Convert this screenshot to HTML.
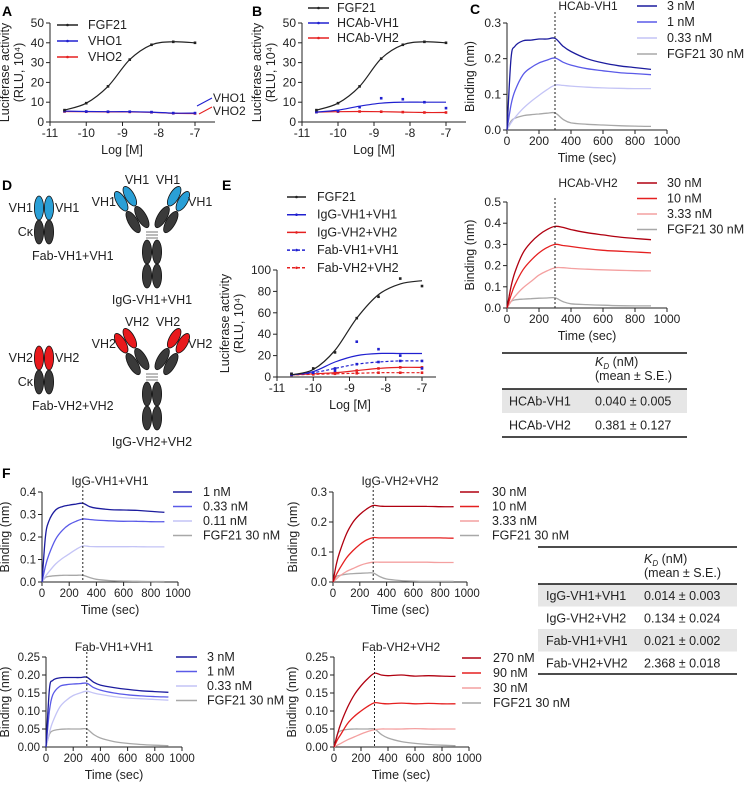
<!DOCTYPE html>
<html><head><meta charset="utf-8"><style>
body{margin:0;background:#fff}
svg{display:block;font-family:"Liberation Sans",Arial,sans-serif}
</style></head><body>
<svg id="fig" width="745" height="785" viewBox="0 0 745 785">
<g id="static">
<text x="2" y="16" font-size="14" font-weight="bold">A</text>
<text x="252" y="16" font-size="14" font-weight="bold">B</text>
<text x="470" y="14" font-size="14" font-weight="bold">C</text>
<text x="2" y="190" font-size="14" font-weight="bold">D</text>
<text x="222" y="190" font-size="14" font-weight="bold">E</text>
<text x="2" y="478" font-size="14" font-weight="bold">F</text>
</g>
<g id="panel-d"></g>
<g id="charts"></g>
<g id="tables"></g>
</svg>
<script>
// ---- dose-response data ----
const doseX = [-10.6, -10, -9.4, -8.8, -8.2, -7.6, -7];
const aFGF21 = [6, 9.5, 18, 31.5, 39, 40.5, 40];
const aVHO1 = [5.5, 5.3, 5.2, 5.2, 5, 4.5, 4.5];
const aVHO2 = [5.3, 5.2, 5.1, 5.1, 4.9, 4.4, 4.3];
const bFGF21 = [6, 9.5, 18, 32, 39, 40.5, 40];
const bVH1Fit = [5, 6, 8, 9.5, 10, 10, 10];
const bVH1Pts = [5, 5.5, 7.5, 12, 11.5, 10, 7];
const bVH2Fit = [5, 5.2, 5.3, 5.2, 5, 4.8, 4.8];
const eFGF21Pts = [3, 8, 23, 55, 75, 92, 85];
const eFGF21Fit = [2, 7, 25, 55, 77, 87, 90];
const eIgGVH1 = [2, 5, 14, 20, 22, 22, 22];
const eIgGVH1Pts = [3, 4, 6, 33, 26, 20, 8];
const eIgGVH2 = [2, 3, 4, 6, 8, 9, 9];
const eFabVH1 = [2, 4, 8, 12, 14, 15, 15];
const eFabVH2 = [2, 2.5, 3, 3.5, 4, 4, 4];
const doseTicksX = [-11, -10, -9, -8, -7];
// ---- kinetics data ----
const tSec = [0, 25, 50, 100, 150, 200, 250, 300, 350, 400, 500, 600, 700, 800, 900];
const cVH1_3 = [0,0.2,0.235,0.25,0.252,0.255,0.255,0.257,0.235,0.22,0.2,0.188,0.18,0.175,0.17];
const cVH1_1 = [0,0.07,0.11,0.155,0.175,0.188,0.196,0.202,0.19,0.182,0.172,0.166,0.161,0.158,0.155];
const cVH1_033 = [0,0.02,0.035,0.06,0.08,0.097,0.113,0.126,0.125,0.123,0.12,0.118,0.117,0.116,0.116];
const cFGF_a = [0,0.025,0.033,0.04,0.043,0.045,0.047,0.048,0.03,0.02,0.016,0.014,0.012,0.011,0.01];
const cVH2_30 = [0,0.1,0.17,0.26,0.31,0.345,0.37,0.385,0.38,0.37,0.355,0.345,0.335,0.328,0.322];
const cVH2_10 = [0,0.06,0.11,0.18,0.225,0.26,0.285,0.3,0.295,0.29,0.28,0.272,0.268,0.264,0.26];
const cVH2_333 = [0,0.03,0.055,0.095,0.125,0.155,0.175,0.19,0.19,0.187,0.183,0.18,0.178,0.176,0.175];
const cFGF_b = [0,0.03,0.038,0.042,0.044,0.046,0.047,0.048,0.03,0.02,0.016,0.013,0.011,0.01,0.01];
const fIgG1_1 = [0,0.2,0.27,0.32,0.335,0.342,0.346,0.35,0.335,0.328,0.322,0.32,0.318,0.314,0.31];
const fIgG1_033 = [0,0.07,0.12,0.19,0.23,0.255,0.27,0.28,0.278,0.275,0.272,0.27,0.27,0.268,0.268];
const fIgG1_011 = [0,0.025,0.045,0.08,0.105,0.125,0.145,0.16,0.158,0.157,0.157,0.157,0.157,0.156,0.156];
const fFGF_a = [0,0.02,0.025,0.028,0.03,0.03,0.03,0.03,0.02,0.012,0.006,0.004,0.003,0.002,0.002];
const fIgG2_30 = [0,0.06,0.1,0.16,0.2,0.225,0.243,0.255,0.253,0.252,0.252,0.252,0.252,0.251,0.251];
const fIgG2_10 = [0,0.025,0.045,0.08,0.105,0.125,0.14,0.148,0.147,0.147,0.147,0.147,0.147,0.147,0.146];
const fIgG2_333 = [0,0.01,0.02,0.035,0.045,0.055,0.062,0.066,0.066,0.066,0.066,0.066,0.066,0.065,0.065];
const fFGF_b = [0,0.018,0.022,0.026,0.028,0.029,0.03,0.03,0.018,0.01,0.005,0.003,0.002,0.002,0.002];
const fFab1_3 = [0,0.16,0.185,0.192,0.193,0.193,0.193,0.194,0.18,0.172,0.165,0.16,0.156,0.154,0.152];
const fFab1_1 = [0,0.1,0.145,0.168,0.173,0.175,0.176,0.177,0.165,0.158,0.15,0.145,0.142,0.14,0.139];
const fFab1_033 = [0,0.04,0.07,0.11,0.13,0.143,0.15,0.155,0.15,0.146,0.14,0.136,0.134,0.132,0.13];
const fFGF_c = [0,0.035,0.045,0.049,0.05,0.05,0.05,0.05,0.035,0.025,0.015,0.01,0.007,0.005,0.004];
const fFab2_270 = [0,0.035,0.065,0.11,0.145,0.17,0.19,0.205,0.2,0.198,0.2,0.197,0.198,0.197,0.196];
const fFab2_90 = [0,0.02,0.035,0.065,0.085,0.1,0.113,0.123,0.121,0.12,0.122,0.12,0.121,0.12,0.12];
const fFab2_30 = [0,0.005,0.01,0.02,0.028,0.036,0.043,0.048,0.05,0.05,0.05,0.051,0.05,0.05,0.05];
const fFGF_d = [0,0.035,0.045,0.049,0.05,0.05,0.05,0.05,0.035,0.025,0.015,0.01,0.007,0.005,0.004];
const timeTicks = [0, 200, 400, 600, 800, 1000];

const NS = "http://www.w3.org/2000/svg";
function mk(tag, attrs, parent){const e=document.createElementNS(NS,tag);for(const k in attrs)e.setAttribute(k,attrs[k]);(parent||document.getElementById('charts')).appendChild(e);return e;}
function txt(x,y,s,size,anchor,parent){const t=mk('text',{x:x,y:y,'font-size':size||12,'text-anchor':anchor||'start',fill:'#222'},parent);t.textContent=s;return t;}
function smoothPath(pts){let d='M'+pts[0][0]+','+pts[0][1];for(let i=0;i<pts.length-1;i++){const p0=pts[Math.max(i-1,0)],p1=pts[i],p2=pts[i+1],p3=pts[Math.min(i+2,pts.length-1)];const c1=[p1[0]+(p2[0]-p0[0])/6,p1[1]+(p2[1]-p0[1])/6],c2=[p2[0]-(p3[0]-p1[0])/6,p2[1]-(p3[1]-p1[1])/6];d+=' C'+c1[0].toFixed(1)+','+c1[1].toFixed(1)+' '+c2[0].toFixed(1)+','+c2[1].toFixed(1)+' '+p2[0].toFixed(1)+','+p2[1].toFixed(1);}return d;}

function axes(o){
  const g=mk('g',{});
  
  
  const sx=v=>o.x0+(v-o.xmin)/(o.xmax-o.xmin)*(o.xr-o.x0);
  const sy=v=>o.y0-(v-o.ymin)/(o.ymax-o.ymin)*(o.y0-o.yt1);
  mk('line',{x1:o.x0,y1:o.y0,x2:o.xend,y2:o.y0,stroke:'#222','stroke-width':1},g);
  mk('line',{x1:o.x0,y1:o.y0,x2:o.x0,y2:o.yt1,stroke:'#222','stroke-width':1},g);
  o.xt.forEach(v=>{mk('line',{x1:sx(v),y1:o.y0,x2:sx(v),y2:o.y0+4,stroke:'#222'},g);const t=txt(sx(v),o.y0+15,String(v),o.fs||12,'middle',g);});
  o.yt.forEach(v=>{mk('line',{x1:o.x0-4,y1:sy(v),x2:o.x0,y2:sy(v),stroke:'#222'},g);const t=txt(o.x0-6,sy(v)+4,o.yfmt?o.yfmt(v):String(v),o.fs||12,'end',g);});
  const xl=txt(o.xlabx,o.y0+32,o.xlabel,12.5,'middle',g);
  
  
  o.ylab.forEach((s,i)=>{const t=txt(0,0,s,12.5,'middle',g);t.setAttribute('transform','translate('+(o.ylx+i*14)+','+((o.y0+o.yt1)/2)+') rotate(-90)');});
  return {g,sx,sy};
}
function legend(g,x,y,step,items,lw,tx){
  items.forEach((it,i)=>{const yy=y+i*step;const l=mk('line',{x1:x,y1:yy,x2:x+lw,y2:yy,stroke:it[1],'stroke-width':1.5,'stroke-dasharray':it[2]?'3,2':'none'},g);
  
  
  if(it[3]){mk('circle',{cx:x+lw/2,cy:yy,r:1.3,fill:it[1]},g);}
  const t=txt(tx,yy+4,it[0],12.5,'start',g);
  
  });
}
function dose(ax,ys,color,dash,showPts,pts){
  const p=doseX.map((x,i)=>[ax.sx(x),ax.sy(ys[i])]);
  const path=mk('path',{d:smoothPath(p),fill:'none',stroke:color,'stroke-width':1.2,'stroke-dasharray':dash?'3,2':'none'},ax.g);
  
  
  const pv=pts||ys;
  if(showPts) doseX.forEach((x,i)=>{const c=mk('rect',{x:ax.sx(x)-1.3,y:ax.sy(pv[i])-1.3,width:2.6,height:2.6,fill:color},ax.g);});
}
function kin(ax,ys,color){
  const p=tSec.map((t,i)=>[ax.sx(t),ax.sy(ys[i])]);
  const path=mk('path',{d:smoothPath(p),fill:'none',stroke:color,'stroke-width':1.3},ax.g);
  
  
}
function dashedMark(ax,top){const l=mk('line',{x1:ax.sx(300),y1:top,x2:ax.sx(300),y2:ax.sy(0),stroke:'#222','stroke-dasharray':'2,2'},ax.g);}

const BL1='#1c1c9e',BL2='#5a5ae8',BL3='#c4c4f6',GR='#a8a8a8',RD1='#b00010',RD2='#e52020',RD3='#f4a0a0';

// Panel A
const pa=axes({name:'chart-a',x0:50,xr:195,y0:122,yt1:23,xend:215,xmin:-11,xmax:-7,ymin:0,ymax:50,xt:doseTicksX,yt:[0,10,20,30,40,50],xlabel:'Log [M]',xlabx:122,ylab:['Luciferase activity','(RLU, 10⁴)'],ylx:9});
dose(pa,aVHO2,RD2,false,true);
dose(pa,aVHO1,'#2020d0',false,true);
dose(pa,aFGF21,'#222',false,true);
legend(pa.g,57,25,16,[['FGF21','#222',0,1],['VHO1','#2020d0',0,1],['VHO2',RD2,0,1]],21,88);
mk('line',{x1:197,y1:106,x2:212,y2:98,stroke:'#2020d0'},pa.g);
mk('line',{x1:199,y1:114,x2:212,y2:107,stroke:RD2},pa.g);
txt(213,102,'VHO1',12,'start',pa.g);txt(213,115,'VHO2',12,'start',pa.g);
// Panel B
const pb=axes({name:'chart-b',x0:302,xr:446,y0:122,yt1:23,xend:466,xmin:-11,xmax:-7,ymin:0,ymax:50,xt:doseTicksX,yt:[0,10,20,30,40,50],xlabel:'Log [M]',xlabx:374,ylab:['Luciferase activity','(RLU, 10⁴)'],ylx:261});
dose(pb,bVH2Fit,RD2,false,true);
dose(pb,bVH1Fit,'#2020d0',false,false);
doseX.forEach((x,i)=>{const c=mk('rect',{x:pb.sx(x)-1.3,y:pb.sy(bVH1Pts[i])-1.3,width:2.6,height:2.6,fill:'#2020d0'},pb.g);});
dose(pb,bFGF21,'#222',false,true);
legend(pb.g,308,8,15,[['FGF21','#222',0,1],['HCAb-VH1','#2020d0',0,1],['HCAb-VH2',RD2,0,1]],21,337);
// Panel C top
const pc1=axes({name:'chart-c-vh1',x0:507,xr:667,y0:130,yt1:23,xend:667,xmin:0,xmax:1000,ymin:0,ymax:0.3,xt:timeTicks,yt:[0,0.1,0.2,0.3],yfmt:v=>v.toFixed(1),xlabel:'Time (sec)',xlabx:587,ylab:['Binding (nm)'],ylx:474});
kin(pc1,cFGF_a,GR);kin(pc1,cVH1_033,BL3);kin(pc1,cVH1_1,BL2);kin(pc1,cVH1_3,BL1);
dashedMark(pc1,12);
txt(588,10,'HCAb-VH1',12,'middle',pc1.g);
legend(pc1.g,637,6,16,[['3 nM',BL1],['1 nM',BL2],['0.33 nM',BL3],['FGF21 30 nM',GR]],20,667);
// Panel C bottom
const pc2=axes({name:'chart-c-vh2',x0:507,xr:667,y0:308,yt1:202,xend:667,xmin:0,xmax:1000,ymin:0,ymax:0.5,xt:timeTicks,yt:[0,0.1,0.2,0.3,0.4,0.5],yfmt:v=>v.toFixed(1),xlabel:'Time (sec)',xlabx:587,ylab:['Binding (nm)'],ylx:474});
kin(pc2,cFGF_b,GR);kin(pc2,cVH2_333,RD3);kin(pc2,cVH2_10,RD2);kin(pc2,cVH2_30,RD1);
dashedMark(pc2,198);
txt(588,187,'HCAb-VH2',12,'middle',pc2.g);
legend(pc2.g,637,183,15.5,[['30 nM',RD1],['10 nM',RD2],['3.33 nM',RD3],['FGF21 30 nM',GR]],20,667);
// Panel E
const pe=axes({name:'chart-e',x0:277,xr:422,y0:377,yt1:270,xend:436,xmin:-11,xmax:-7,ymin:0,ymax:100,xt:doseTicksX,yt:[0,20,40,60,80,100],xlabel:'Log [M]',xlabx:350,ylab:['Luciferase activity','(RLU, 10⁴)'],ylx:229});
dose(pe,eFabVH2,RD2,true,true);
dose(pe,eIgGVH2,RD2,false,true);
dose(pe,eFabVH1,'#2020d0',true,true);
dose(pe,eIgGVH1,'#2020d0',false,true,eIgGVH1Pts);
dose(pe,eFGF21Fit,'#222',false,true,eFGF21Pts);
legend(pe.g,287,197,17.7,[['FGF21','#222',0,1],['IgG-VH1+VH1','#2020d0',0,1],['IgG-VH2+VH2',RD2,0,1],['Fab-VH1+VH1','#2020d0',1,1],['Fab-VH2+VH2',RD2,1,1]],19,317);
// Panel F
const f1=axes({name:'chart-f-igg-vh1',x0:42,xr:178,y0:582,yt1:492,xend:178,xmin:0,xmax:1000,ymin:0,ymax:0.4,xt:timeTicks,yt:[0,0.1,0.2,0.3,0.4],yfmt:v=>v.toFixed(1),xlabel:'Time (sec)',xlabx:110,ylab:['Binding (nm)'],ylx:9,fs:11.5});
kin(f1,fFGF_a,GR);kin(f1,fIgG1_011,BL3);kin(f1,fIgG1_033,BL2);kin(f1,fIgG1_1,BL1);
dashedMark(f1,486);txt(110,485,'IgG-VH1+VH1',12,'middle',f1.g);
legend(f1.g,173,492,14.5,[['1 nM',BL1],['0.33 nM',BL2],['0.11 nM',BL3],['FGF21 30 nM',GR]],19,203);
const f2=axes({name:'chart-f-igg-vh2',x0:333,xr:467,y0:582,yt1:492,xend:467,xmin:0,xmax:1000,ymin:0,ymax:0.3,xt:timeTicks,yt:[0,0.1,0.2,0.3],yfmt:v=>v.toFixed(1),xlabel:'Time (sec)',xlabx:400,ylab:['Binding (nm)'],ylx:297,fs:11.5});
kin(f2,fFGF_b,GR);kin(f2,fIgG2_333,RD3);kin(f2,fIgG2_10,RD2);kin(f2,fIgG2_30,RD1);
dashedMark(f2,486);txt(400,485,'IgG-VH2+VH2',12,'middle',f2.g);
legend(f2.g,460,492,14.5,[['30 nM',RD1],['10 nM',RD2],['3.33 nM',RD3],['FGF21 30 nM',GR]],19,492);
const f3=axes({name:'chart-f-fab-vh1',x0:46,xr:182,y0:747,yt1:657,xend:182,xmin:0,xmax:1000,ymin:0,ymax:0.25,xt:timeTicks,yt:[0,0.05,0.1,0.15,0.2,0.25],yfmt:v=>v.toFixed(2),xlabel:'Time (sec)',xlabx:114,ylab:['Binding (nm)'],ylx:9,fs:11.5});
kin(f3,fFGF_c,GR);kin(f3,fFab1_033,BL3);kin(f3,fFab1_1,BL2);kin(f3,fFab1_3,BL1);
dashedMark(f3,652);txt(114,651,'Fab-VH1+VH1',12,'middle',f3.g);
legend(f3.g,176,657,14.5,[['3 nM',BL1],['1 nM',BL2],['0.33 nM',BL3],['FGF21 30 nM',GR]],21,207);
const f4=axes({name:'chart-f-fab-vh2',x0:334,xr:469,y0:747,yt1:657,xend:469,xmin:0,xmax:1000,ymin:0,ymax:0.25,xt:timeTicks,yt:[0,0.05,0.1,0.15,0.2,0.25],yfmt:v=>v.toFixed(2),xlabel:'Time (sec)',xlabx:401,ylab:['Binding (nm)'],ylx:296,fs:11.5});
kin(f4,fFGF_d,GR);kin(f4,fFab2_30,RD3);kin(f4,fFab2_90,RD2);kin(f4,fFab2_270,RD1);
dashedMark(f4,652);txt(401,651,'Fab-VH2+VH2',12,'middle',f4.g);
legend(f4.g,462,658,15,[['270 nM',RD1],['90 nM',RD2],['30 nM',RD3],['FGF21 30 nM',GR]],19,493);

// Tables
const T=document.getElementById('tables');
function table(name,x0,x1,top,hy,sep,rows,rowH,valX,nameX){
  const g=mk('g',{},T);
  
  
  rows.forEach((r,i)=>{const y=sep+i*rowH;if(i%2===0)mk('rect',{x:x0,y:y,width:x1-x0,height:rowH,fill:'#e6e6e6'},g);
    const a=txt(nameX,y+rowH/2+4.5,r[0],12.5,'start',g);
    const b=txt(valX,y+rowH/2+4.5,r[1],12.5,'start',g);});
  mk('line',{x1:x0,y1:top,x2:x1,y2:top,stroke:'#111','stroke-width':1.5},g);
  mk('line',{x1:x0,y1:sep,x2:x1,y2:sep,stroke:'#111','stroke-width':1.5},g);
  const bt=sep+rows.length*rowH;
  mk('line',{x1:x0,y1:bt,x2:x1,y2:bt,stroke:'#111','stroke-width':1.5},g);
  const h=mk('text',{x:valX,y:hy,'font-size':12.5,fill:'#222'},g);
  h.innerHTML='<tspan font-style="italic">K</tspan><tspan font-style="italic" font-size="8" dy="3">D</tspan><tspan dy="-3"> (nM)</tspan>';
  
  
  txt(valX,hy+14,'(mean ± S.E.)',12.5,'start',g);
}
table('kd-table-c',502,687,353,366,389,[['HCAb-VH1','0.040 ± 0.005'],['HCAb-VH2','0.381 ± 0.127']],24,595,509);
table('kd-table-f',538,737,547,563,584,[['IgG-VH1+VH1','0.014 ± 0.003'],['IgG-VH2+VH2','0.134 ± 0.024'],['Fab-VH1+VH1','0.021 ± 0.002'],['Fab-VH2+VH2','2.368 ± 0.018']],22.5,644,546);

// Panel D diagrams (static shapes)
const D=document.getElementById('panel-d');
const DK='#3a3a3a';
function ell(cx,cy,rx,ry,fill,par,rot){const e=mk('ellipse',{cx:cx,cy:cy,rx:rx,ry:ry,fill:fill,stroke:'#111','stroke-width':0.8},par);if(rot)e.setAttribute('transform','rotate('+rot+' '+cx+' '+cy+')');return e;}
function fab(cx,top,col,lbl,cap){
  const g=mk('g',{},D);
  
  
  ell(cx-5,top+12,4.6,12,col,g);ell(cx+5,top+12,4.6,12,col,g);
  ell(cx-5,top+36,4.6,12,DK,g);ell(cx+5,top+36,4.6,12,DK,g);
  txt(cx-11,top+16,lbl,12.5,'end',g);txt(cx+11,top+16,lbl,12.5,'start',g);
  txt(cx-11,top+40,'Cκ',12.5,'end',g);
  txt(cx-12,top+64,cap,12.5,'start',g);
}
function igg(cx,top,col,lbl,cap){
  const g=mk('g',{},D);
  
  
  [-1,1].forEach(s=>{
    const a=mk('g',{transform:'translate('+(cx+s*20)+','+(top+30)+') rotate('+(s*30)+')'},g);
    ell(-5,-13,4.6,11,col,a);ell(5,-13,4.6,11,col,a);
    ell(-5,11,4.6,12,DK,a);ell(5,11,4.6,12,DK,a);
  });
  [0,3,6].forEach(d=>mk('line',{x1:cx-6,y1:top+52+d,x2:cx+6,y2:top+52+d,stroke:'#555','stroke-width':0.8},g));
  ell(cx-5,top+72,4.6,12,DK,g);ell(cx+5,top+72,4.6,12,DK,g);
  ell(cx-5,top+96,4.6,12,DK,g);ell(cx+5,top+96,4.6,12,DK,g);
  txt(cx-15,top+4,lbl,12.5,'middle',g);txt(cx+16,top+4,lbl,12.5,'middle',g);
  txt(cx-36,top+26,lbl,12.5,'end',g);txt(cx+36,top+26,lbl,12.5,'start',g);
  txt(cx,top+124,cap,12.5,'middle',g);
}
fab(44,196,'#2a9fd6','VH1','Fab-VH1+VH1');
igg(152,180,'#2a9fd6','VH1','IgG-VH1+VH1');
fab(44,346,'#e8191c','VH2','Fab-VH2+VH2');
igg(152,322,'#e8191c','VH2','IgG-VH2+VH2');
</script>
</body></html>
